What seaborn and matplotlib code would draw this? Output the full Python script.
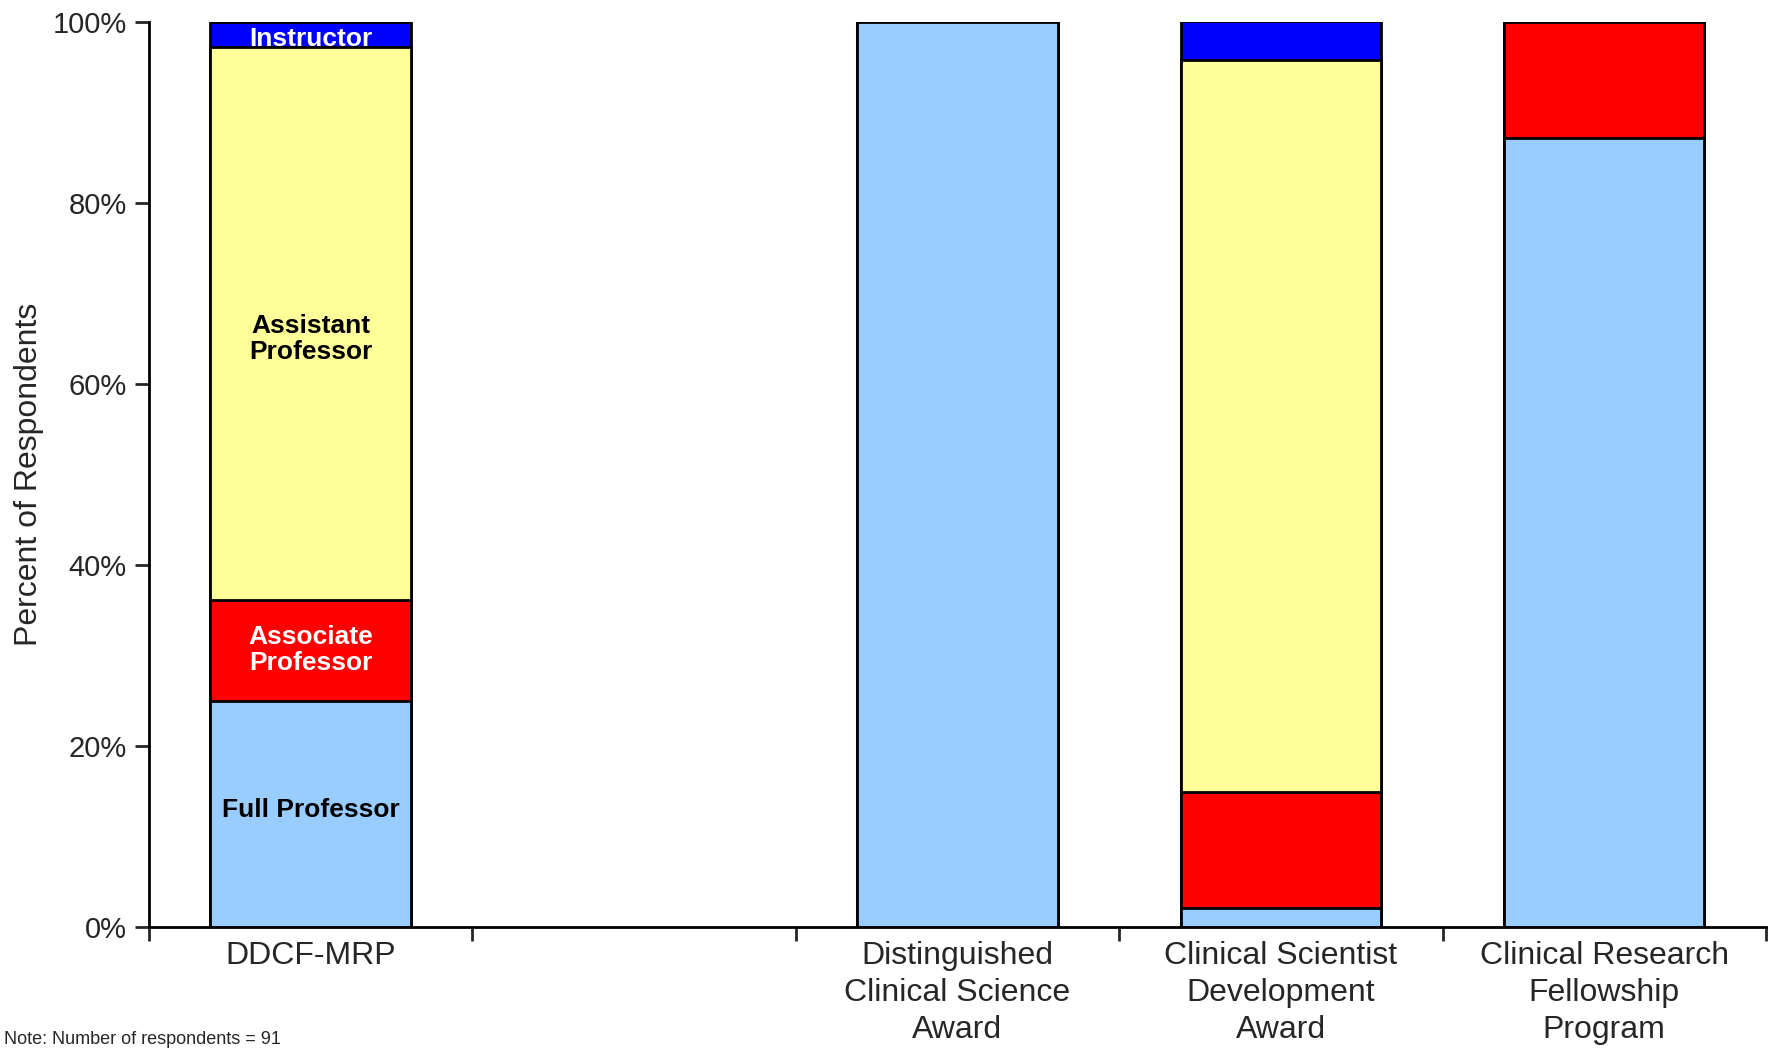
import numpy as np
import pandas as pd
import matplotlib
matplotlib.use("Agg")
import matplotlib.pyplot as plt
import seaborn as sns

# ---- data (percent of respondents) ----
programs = ["DDCF-MRP", " ", "Distinguished\nClinical Science\nAward",
            "Clinical Scientist\nDevelopment\nAward", "Clinical Research\nFellowship\nProgram"]
full_prof = [25.0, np.nan, 100.0, 2.1, 87.2]
assoc_prof = [11.1, np.nan, 0.0, 12.8, 12.8]
asst_prof = [61.1, np.nan, 0.0, 80.9, 0.0]
instructor = [2.8, np.nan, 0.0, 4.3, 0.0]
ranks = ["Full Professor", "Associate\nProfessor", "Assistant\nProfessor", "Instructor"]
colors = ["#99CCFF", "#FF0000", "#FFFF99", "#0000FF"]
label_colors = ["black", "white", "black", "white"]
y_ticks = [0, 20, 40, 60, 80, 100]
note = "Note: Number of respondents = 91"

sns.set_theme(style="white")
plt.rcParams["font.family"] = ["Liberation Sans", "DejaVu Sans"]

df = pd.DataFrame({"program": programs, "Full Professor": full_prof,
                   "Associate\nProfessor": assoc_prof,
                   "Assistant\nProfessor": asst_prof, "Instructor": instructor})
cum = df[ranks].cumsum(axis=1)

fig = plt.figure(figsize=(17.73, 10.51), dpi=100)
ax = fig.add_axes([0.084, 0.118, 0.912, 0.861])

# draw from top of stack downward so lower segments overlay
for rank, col in reversed(list(zip(ranks, colors))):
    sns.barplot(x=df["program"], y=cum[rank], order=programs, color=col,
                width=0.62, edgecolor="black", linewidth=2, saturation=1,
                ax=ax, zorder=2)

# segment labels on DDCF-MRP bar
label_pos = {"Full Professor": 12.9, "Associate\nProfessor": 30.6,
             "Assistant\nProfessor": 65.0, "Instructor": 98.1}
for r, lc in zip(ranks, label_colors):
    ax.text(0, label_pos[r], r, ha="center", va="center", color=lc,
            fontsize=19, fontweight="bold", linespacing=1.1, zorder=5)

ax.set_ylim(0, 100)
ax.set_xlim(-0.5, len(programs) - 0.5)
ax.set_yticks(y_ticks)
ax.set_yticklabels([f"{v}%" for v in y_ticks], fontsize=21)
ax.set_ylabel("Percent of Respondents", fontsize=23, labelpad=6)
ax.set_xlabel("")

# boundary tick marks, labels centred between them
ax.set_xticks(np.arange(-0.5, len(programs), 1.0))
ax.set_xticklabels([])
ax.set_xticks(np.arange(len(programs)), minor=True)
ax.set_xticklabels(programs, minor=True, fontsize=23, linespacing=1.3)
ax.tick_params(axis="x", which="major", direction="out", length=10, width=2, bottom=True)
ax.tick_params(axis="x", which="minor", length=0, pad=10, bottom=True)
ax.tick_params(axis="y", direction="out", length=10, width=2, left=True, pad=6)

sns.despine(ax=ax, top=True, right=True)
for s in ["left", "bottom"]:
    ax.spines[s].set_linewidth(2)
    ax.spines[s].set_color("black")
    ax.spines[s].set_zorder(6)

fig.text(0.002, 0.003, note, ha="left", va="bottom", fontsize=13)

fig.savefig("out.png", dpi=100)
